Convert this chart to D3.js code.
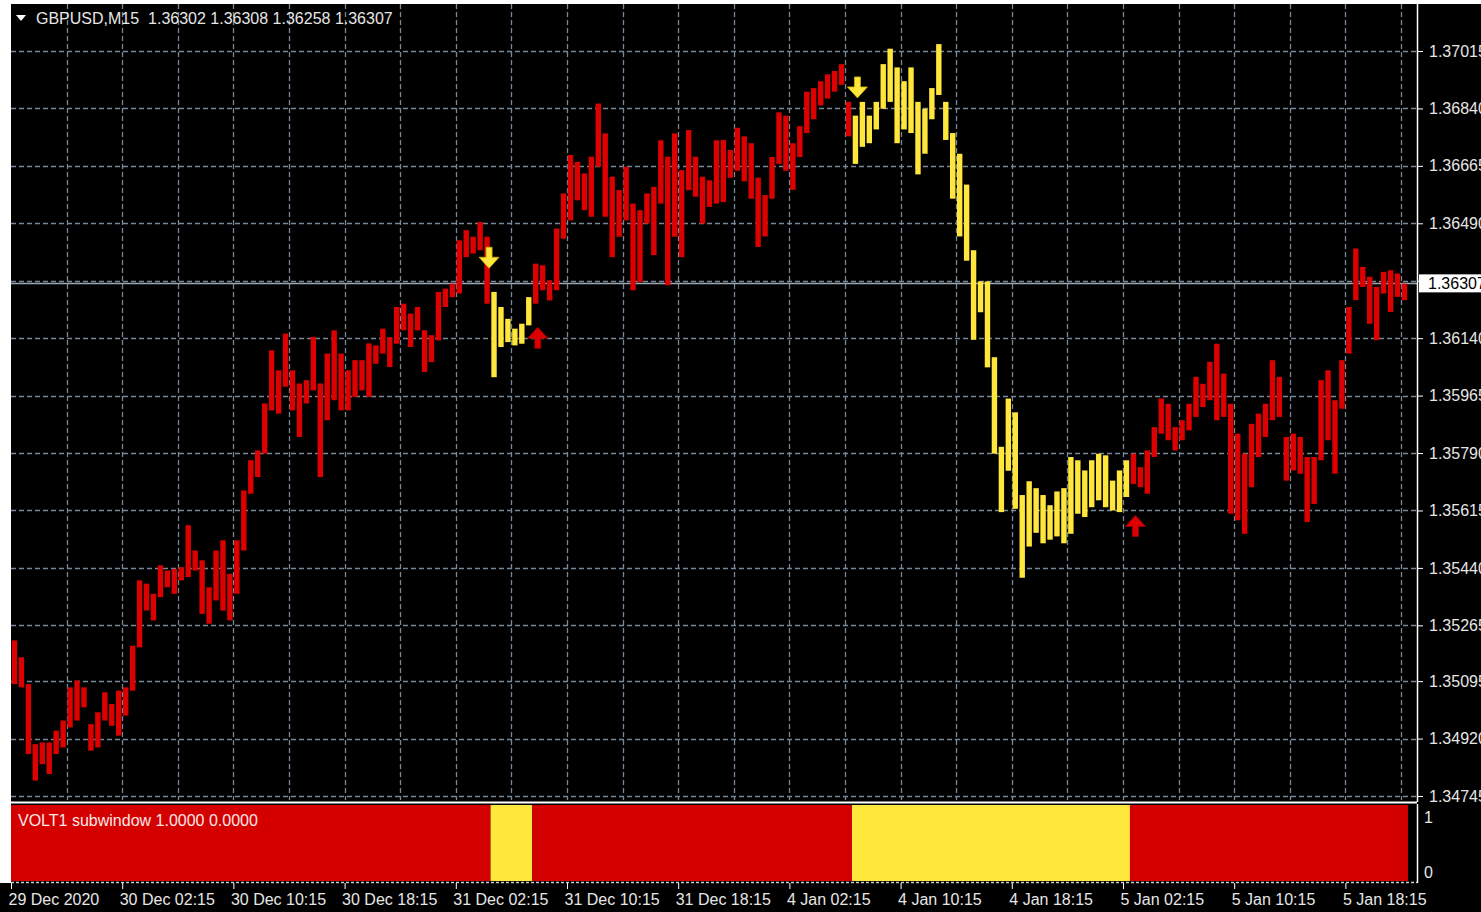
<!DOCTYPE html>
<html>
<head>
<meta charset="utf-8">
<script src="https://cdn.jsdelivr.net/npm/d3@7"></script>
<style>
  body { margin: 0; background: #000; }
  svg text { font-family: "Liberation Sans", Arial, sans-serif; }
</style>
</head>
<body>
<svg id="chart" width="1481" height="912"></svg>
<script>
// ---- data (30 min resolution) ----
var symbolTitle = "GBPUSD,M15  1.36302 1.36308 1.36258 1.36307";
var subTitle = "VOLT1 subwindow 1.0000 0.0000";
var lastPrice = 1.36307;

var hi = [
  1.35219,1.35168,1.35086,1.34903,1.34908,1.34908,1.34944,1.34975,1.35076,1.35097,
  1.35076,1.34964,1.35000,1.35061,1.35025,1.35066,1.35076,1.35203,1.35402,1.35392,
  1.35361,1.35448,1.35432,1.35437,1.35442,1.35570,1.35493,1.35463,1.35381,1.35493,
  1.35524,1.35422,1.35524,1.35676,1.35768,1.35798,1.35941,1.36103,1.36042,1.36154,
  1.36042,1.36002,1.36012,1.36144,1.36002,1.36093,1.36164,1.36093,1.36042,1.36073,
  1.36073,1.36124,1.36118,1.36169,1.36143,1.36235,1.36245,1.36215,1.36235,1.36164,
  1.36149,1.36281,1.36291,1.36306,1.36438,1.36469,1.36449,1.36494,1.36449,1.36281,
  1.36235,1.36199,1.36169,1.36184,1.36265,1.36367,1.36362,1.36316,1.36474,1.36581,
  1.36698,1.36677,1.36642,1.36693,1.36855,1.36764,1.36632,1.36591,1.36662,1.36550,
  1.36530,1.36581,1.36601,1.36743,1.36693,1.36764,1.36652,1.36774,1.36693,1.36632,
  1.36621,1.36743,1.36744,1.36713,1.36781,1.36755,1.36734,1.36629,1.36576,1.36692,
  1.36828,1.36818,1.36734,1.36786,1.36891,1.36902,1.36923,1.36944,1.36954,1.36975,
  1.36860,1.36818,1.36860,1.36818,1.36860,1.36975,1.37022,1.36965,1.36923,1.36965,
  1.36860,1.36839,1.36902,1.37036,1.36860,1.36765,1.36702,1.36608,1.36408,1.36313,
  1.36313,1.36082,1.35809,1.35956,1.35914,1.35662,1.35704,1.35683,1.35662,1.35631,
  1.35673,1.35683,1.35778,1.35768,1.35737,1.35768,1.35788,1.35783,1.35706,1.35737,
  1.35768,1.35788,1.35747,1.35798,1.35869,1.35956,1.35940,1.35869,1.35890,1.35940,
  1.36022,1.36001,1.36068,1.36123,1.36032,1.35940,1.35849,1.35788,1.35879,1.35910,
  1.35940,1.36073,1.36022,1.35839,1.35849,1.35839,1.35778,1.35778,1.36012,1.36042,
  1.35951,1.36073,1.36235,1.36413,1.36357,1.36327,1.36296,1.36342,1.36347,1.36337,
  1.36306
];
var lo = [
  1.35086,1.35076,1.34873,1.34792,1.34842,1.34812,1.34873,1.34893,1.34954,1.34975,
  1.35015,1.34883,1.34893,1.34975,1.34959,1.34929,1.34990,1.35066,1.35198,1.35310,
  1.35280,1.35351,1.35381,1.35361,1.35402,1.35412,1.35432,1.35300,1.35270,1.35341,
  1.35310,1.35280,1.35361,1.35493,1.35666,1.35717,1.35788,1.35920,1.35910,1.35992,
  1.35920,1.35839,1.35941,1.35981,1.35717,1.35890,1.35951,1.35920,1.35920,1.35961,
  1.35981,1.35961,1.36062,1.36093,1.36052,1.36123,1.36164,1.36113,1.36164,1.36037,
  1.36067,1.36133,1.36235,1.36265,1.36276,1.36387,1.36398,1.36408,1.36245,1.36021,
  1.36113,1.36128,1.36118,1.36123,1.36179,1.36245,1.36286,1.36255,1.36286,1.36443,
  1.36499,1.36560,1.36530,1.36510,1.36662,1.36510,1.36387,1.36449,1.36499,1.36286,
  1.36311,1.36489,1.36393,1.36550,1.36301,1.36449,1.36387,1.36591,1.36571,1.36489,
  1.36540,1.36550,1.36555,1.36629,1.36650,1.36618,1.36565,1.36418,1.36450,1.36565,
  1.36671,1.36650,1.36592,1.36692,1.36765,1.36807,1.36849,1.36870,1.36891,1.36912,
  1.36755,1.36671,1.36723,1.36734,1.36776,1.36839,1.36860,1.36734,1.36776,1.36765,
  1.36639,1.36702,1.36807,1.36881,1.36744,1.36565,1.36450,1.36376,1.36135,1.36219,
  1.36051,1.35788,1.35610,1.35736,1.35620,1.35410,1.35505,1.35547,1.35515,1.35526,
  1.35536,1.35515,1.35544,1.35605,1.35595,1.35625,1.35646,1.35625,1.35615,1.35610,
  1.35656,1.35696,1.35686,1.35666,1.35778,1.35849,1.35829,1.35798,1.35829,1.35859,
  1.35900,1.35930,1.35951,1.35890,1.35900,1.35605,1.35585,1.35544,1.35686,1.35778,
  1.35839,1.35890,1.35900,1.35706,1.35737,1.35727,1.35580,1.35635,1.35768,1.35829,
  1.35727,1.35925,1.36093,1.36256,1.36296,1.36184,1.36134,1.36276,1.36220,1.36266,
  1.36256
];

// yellow (sell) runs of the VOLT1 state, as bar indices
var sellStart = [69, 121];
var sellEnd   = [74, 160];

// signal arrows
var arrowBar   = [68, 121, 75, 161];
var arrowDir   = ["down", "down", "up", "up"];
var arrowPrice = [1.36353, 1.36872, 1.36173, 1.35600];

var priceTicks = [1.37015, 1.36840, 1.36665, 1.36490, 1.36315, 1.36140, 1.35965,
                  1.35790, 1.35615, 1.35440, 1.35265, 1.35095, 1.34920, 1.34745];
var hiddenTick = 1.36315;   // its label sits under the last price box
var timeTickBars = [0, 16, 32, 48, 64, 80, 96, 112, 128, 144, 160, 176, 192];
var timeLabels = ["29 Dec 2020", "30 Dec 02:15", "30 Dec 10:15", "30 Dec 18:15",
                  "31 Dec 02:15", "31 Dec 10:15", "31 Dec 18:15", "4 Jan 02:15",
                  "4 Jan 10:15", "4 Jan 18:15", "5 Jan 02:15", "5 Jan 10:15", "5 Jan 18:15"];
var gridBars = [8, 16, 24, 32, 40, 48, 56, 64, 72, 80, 88, 96, 104, 112, 120, 128,
                136, 144, 152, 160, 168, 176, 184, 192, 200];
var subTicks = [1, 0];

// ---- layout ----
var W = 1481, H = 912;
var plotL = 11, plotR = 1417, plotT = 4, mainB = 800;
var subT = 805, subB = 881;
var RED = "#dc0000", YEL = "#ffe63c", SUBRED = "#d40000", SUBYEL = "#ffe83c";
var GRID = "#778899", TXT = "#e6e6e6";

var svg = d3.select("#chart");

svg.append("rect").attr("width", W).attr("height", H).attr("fill", "#000");
// white window frame on the left and top
svg.append("rect").attr("x", 0).attr("y", 0).attr("width", plotL).attr("height", subB + 2).attr("fill", "#fff");
svg.append("rect").attr("x", 0).attr("y", 0).attr("width", W).attr("height", plotT).attr("fill", "#fff");

var x = d3.scaleLinear().domain([0, 202]).range([plotL, plotL + 202 * 6.95]);
var y = d3.scaleLinear().domain([1.34745, 1.37015]).range([796, 51]);
var ySub = d3.scaleLinear().domain([0, 1]).range([subB, subT]);

function isSell(i) {
    for (var k = 0; k < sellStart.length; k++) {
        if (i >= sellStart[k] && i <= sellEnd[k]) return true;
    }
    return false;
}

svg.append("clipPath").attr("id", "mainClip")
    .append("rect").attr("x", plotL).attr("y", plotT)
    .attr("width", plotR - plotL).attr("height", mainB - plotT);

var main = svg.append("g").attr("clip-path", "url(#mainClip)");

// grid
main.selectAll("line.hgrid")
    .data(priceTicks)
    .enter().append("line")
    .attr("class", "hgrid")
    .attr("x1", plotL).attr("x2", plotR)
    .attr("y1", function(d) { return Math.round(y(d)) + 0.5; })
    .attr("y2", function(d) { return Math.round(y(d)) + 0.5; })
    .attr("stroke", GRID).attr("stroke-width", 1.3)
    .attr("stroke-dasharray", "5,3");

main.selectAll("line.vgrid")
    .data(gridBars)
    .enter().append("line")
    .attr("class", "vgrid")
    .attr("x1", function(d) { return Math.round(x(d)) + 0.5; })
    .attr("x2", function(d) { return Math.round(x(d)) + 0.5; })
    .attr("y1", plotT).attr("y2", mainB)
    .attr("stroke", GRID).attr("stroke-width", 1.3)
    .attr("stroke-dasharray", "5,3");

// current price line
main.append("line")
    .attr("x1", plotL).attr("x2", plotR)
    .attr("y1", Math.round(y(lastPrice)) + 0.5).attr("y2", Math.round(y(lastPrice)) + 0.5)
    .attr("stroke", "#9aa6b2").attr("stroke-width", 1.5);

// price bars
main.selectAll("line.bar")
    .data(d3.range(hi.length))
    .enter().append("line")
    .attr("class", "bar")
    .attr("x1", function(i) { return x(i + 0.5); })
    .attr("x2", function(i) { return x(i + 0.5); })
    .attr("y1", function(i) { return y(hi[i]); })
    .attr("y2", function(i) { return y(lo[i]); })
    .attr("stroke", function(i) { return isSell(i) ? YEL : RED; })
    .attr("stroke-width", 5.4);

// arrows
function arrowPath(cx, tipY, dir) {
    var s = dir === "down" ? -1 : 1;   // tip at tipY, body extends away from it
    var pts = [[0, 0], [10, 11], [3, 11], [3, 21], [-3, 21], [-3, 11], [-10, 11]];
    return "M" + pts.map(function(p) { return (cx + p[0]) + "," + (tipY + s * p[1]); }).join("L") + "Z";
}
main.selectAll("path.arrow")
    .data(d3.range(arrowBar.length))
    .enter().append("path")
    .attr("class", "arrow")
    .attr("d", function(i) { return arrowPath(x(arrowBar[i] + 0.5) + 2, y(arrowPrice[i]), arrowDir[i]); })
    .attr("fill", function(i) { return arrowDir[i] === "down" ? YEL : RED; })
    .attr("stroke", function(i) { return arrowDir[i] === "down" ? "#c8b400" : "#a00000"; })
    .attr("stroke-width", 0.8);

// header
svg.append("path")
    .attr("d", "M16,15L26,15L21,21Z")
    .attr("fill", "#fff");
svg.append("text")
    .attr("x", 36).attr("y", 24)
    .attr("fill", TXT).attr("font-size", 16)
    .style("white-space", "pre")
    .text(symbolTitle);

// frame lines
svg.append("line").attr("x1", plotR + 0.5).attr("x2", plotR + 0.5)
    .attr("y1", plotT).attr("y2", mainB + 2)
    .attr("stroke", "#fff").attr("stroke-width", 1.5);
svg.append("line").attr("x1", plotL).attr("x2", plotR)
    .attr("y1", 802.5).attr("y2", 802.5)
    .attr("stroke", "#fff").attr("stroke-width", 2);

// right price axis
var yAxis = d3.axisRight(y).tickValues(priceTicks).tickSize(5).tickPadding(6)
    .tickFormat(function(d) { return d === hiddenTick ? "" : d3.format(".5f")(d); });
var ya = svg.append("g").attr("transform", "translate(" + (plotR + 1) + ",0)").call(yAxis);
ya.select(".domain").remove();
ya.selectAll(".tick line").attr("stroke", "#fff");
ya.selectAll(".tick text").attr("fill", TXT).attr("font-size", 16)
    .attr("font-family", "Liberation Sans, Arial, sans-serif");

// last price box
svg.append("rect")
    .attr("x", plotR + 2).attr("y", y(lastPrice) - 9)
    .attr("width", W - plotR).attr("height", 18)
    .attr("fill", "#fff");
svg.append("text")
    .attr("x", plotR + 11).attr("y", y(lastPrice) + 6)
    .attr("fill", "#000").attr("font-size", 16)
    .text(d3.format(".5f")(lastPrice));

// ---- VOLT1 subwindow ----
var runs = [];
var cur = 0;
for (var k = 0; k < sellStart.length; k++) {
    runs.push({ from: cur, to: sellStart[k] - 1, sell: false });
    runs.push({ from: sellStart[k], to: sellEnd[k], sell: true });
    cur = sellEnd[k] + 1;
}
runs.push({ from: cur, to: hi.length - 1, sell: false });

svg.selectAll("rect.state")
    .data(runs)
    .enter().append("rect")
    .attr("class", "state")
    .attr("x", function(d) { return x(d.from); })
    .attr("width", function(d) { return x(d.to + 1) - x(d.from); })
    .attr("y", ySub(1))
    .attr("height", ySub(0) - ySub(1))
    .attr("fill", function(d) { return d.sell ? SUBYEL : SUBRED; });

svg.append("text")
    .attr("x", 18).attr("y", 826)
    .attr("fill", "#ffe8e8").attr("font-size", 16)
    .text(subTitle);

svg.append("line").attr("x1", plotR + 0.5).attr("x2", plotR + 0.5)
    .attr("y1", subT - 1).attr("y2", subB + 2)
    .attr("stroke", "#fff").attr("stroke-width", 1.5);
svg.append("line").attr("x1", plotL).attr("x2", plotR)
    .attr("y1", subB + 1.5).attr("y2", subB + 1.5)
    .attr("stroke", "#ccc").attr("stroke-width", 1.5)
    .attr("stroke-dasharray", "3,2");

svg.selectAll("text.subtick")
    .data(subTicks)
    .enter().append("text")
    .attr("class", "subtick")
    .attr("x", plotR + 7)
    .attr("y", function(d) { return d === 1 ? ySub(d) + 18 : ySub(d) - 3; })
    .attr("fill", TXT).attr("font-size", 16)
    .text(function(d) { return d; });

// ---- time axis ----
var xAxis = d3.axisBottom(x).tickValues(timeTickBars).tickSize(6).tickPadding(5)
    .tickFormat(function(d, i) { return timeLabels[i]; });
var xa = svg.append("g").attr("transform", "translate(0," + (subB + 2) + ")").call(xAxis);
xa.select(".domain").remove();
xa.selectAll(".tick line").attr("stroke", "#fff");
xa.selectAll(".tick text").attr("fill", TXT).attr("font-size", 16)
    .attr("text-anchor", "start").attr("dx", -3)
    .attr("font-family", "Liberation Sans, Arial, sans-serif");
</script>
</body>
</html>
